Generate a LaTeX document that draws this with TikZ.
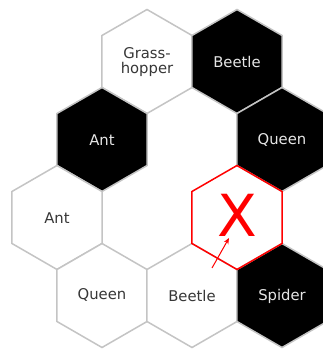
\documentclass[tikz,border=0pt]{standalone}
\usepackage{fontspec}
\setmainfont{DejaVu Sans}
\usetikzlibrary{arrows.meta}
\definecolor{hexgrey}{RGB}{196,196,196}
\definecolor{txtdark}{RGB}{55,55,55}
\definecolor{txtlight}{RGB}{230,230,230}
\newcommand{\hexpath}[3]{\draw[#3] (#1,#2) ++(0,52) -- ++(-30:52) -- ++(-90:52) -- ++(-150:52) -- ++(150:52) -- ++(90:52) -- cycle;}
\tikzset{
  whitehex/.style={fill=white, draw=hexgrey, line width=1.5pt, line join=miter},
  blackhex/.style={fill=black, draw=hexgrey, line width=1.5pt, line join=miter},
  redhex/.style={draw=red, line width=1.5pt, line join=miter},
  lblw/.style={font=\fontsize{14.8}{15.5}\selectfont, text=txtdark, align=center, inner sep=0pt},
  lblb/.style={font=\fontsize{14.8}{15.5}\selectfont, text=txtlight, align=center, inner sep=0pt},
}
\begin{document}
\begin{tikzpicture}[x=1pt,y=1pt]
\useasboundingbox (0,0) rectangle (323,350);
\clip (0,0) rectangle (323,350);
\fill[white] (0,0) rectangle (323,350);
% row 1
\hexpath{147}{288.5}{whitehex}
\hexpath{237}{288.5}{blackhex}
% row 2
\hexpath{102}{210.5}{blackhex}
\hexpath{282}{210.5}{blackhex}
% row 3
\hexpath{57}{132.5}{whitehex}
% row 4
\hexpath{102}{54.5}{whitehex}
\hexpath{192}{54.5}{whitehex}
\hexpath{282}{54.5}{blackhex}
% red target
\hexpath{237}{132.5}{redhex}
% labels
\node[lblw] (grass) at (147,288) {Grass-\\hopper};
\node[lblb] (beetle1) at (237,288.5) {Beetle};
\node[lblb] (ant1) at (102,210) {Ant};
\node[lblw] (ant2) at (57,132) {Ant};
\node[lblb] (queen1) at (282,210) {Queen};
\node[lblw] (queen2) at (102,55.5) {Queen};
\node[lblw] (beetle2) at (192,54) {Beetle};
\node[lblb] (spider) at (282,54) {Spider};
\node[text=red, font=\fontsize{58}{58}\selectfont, inner sep=0pt] (xmark) at (237,135) {X};
\coordinate (arrfrom) at (212,82);
\coordinate (arrto) at (229,112);
\draw[red, line width=1pt, -{Stealth[length=6pt,width=5pt]}] (arrfrom) -- (arrto);
\end{tikzpicture}
\end{document}
